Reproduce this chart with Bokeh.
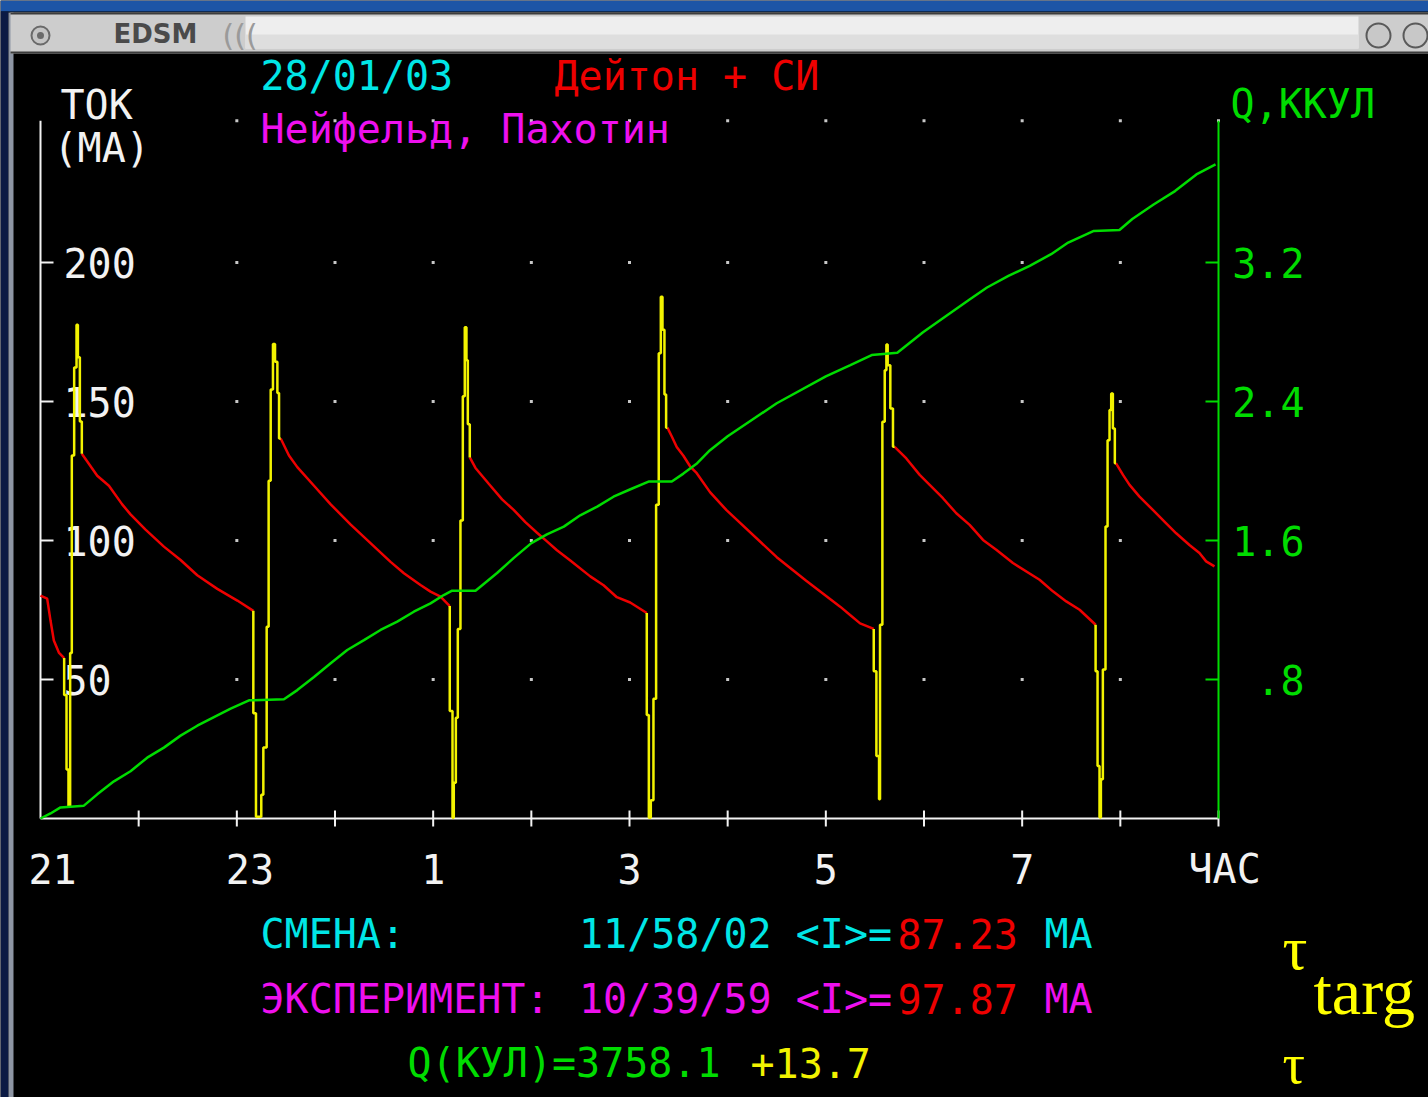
from bokeh.plotting import figure
from bokeh.models import Range1d
from bokeh.core.properties import value
from bokeh.embed import file_html
from bokeh.resources import INLINE

# ---------------- data ----------------
# time axis: hours elapsed since 21:00
HOUR_TICKS = [1, 2, 3, 4, 5, 6, 7, 8, 9, 10, 11, 12]
HOUR_LABEL_AT = [0, 2, 4, 6, 8, 10, 12]
HOUR_LABELS = ["21", "23", "1", "3", "5", "7", "ЧАС"]
GRID_HOURS = [2, 3, 4, 5, 6, 7, 8, 9, 10, 11]
CURRENT_TICKS = [50, 100, 150, 200]
CURRENT_TICK_LABELS = ["50", "100", "150", "200"]
CURRENT_AXIS_TOP = 251
CHARGE_TICKS = [0.8, 1.6, 2.4, 3.2]
CHARGE_TICK_LABELS = [".8", "1.6", "2.4", "3.2"]
KC_PER_MA = 0.8 / 50  # right axis scale relative to left axis

# decaying beam current between injections (red), mA
decay_h = [
    [0.000, 0.068, 0.102, 0.136, 0.187, 0.241],
    [0.421, 0.578, 0.697, 0.832, 0.917, 1.070, 1.257, 1.427, 1.597, 1.801, 2.005, 2.168],
    [2.447, 2.531, 2.616, 2.786, 2.956, 3.160, 3.566, 3.702, 3.871, 3.973, 4.075, 4.169],
    [4.373, 4.431, 4.566, 4.702, 4.820, 4.939, 5.058, 5.159, 5.261, 5.397, 5.600, 5.736, 5.871, 6.007, 6.176],
    [6.386, 6.431, 6.481, 6.549, 6.617, 6.685, 6.820, 6.988, 7.500, 7.800, 8.146, 8.247, 8.349, 8.488],
    [8.701, 8.820, 8.956, 9.058, 9.193, 9.329, 9.465, 9.601, 9.736, 9.906, 10.177, 10.313, 10.449, 10.585, 10.748],
    [10.955, 11.027, 11.094, 11.195, 11.331, 11.467, 11.569, 11.704, 11.806, 11.874, 11.959],
]
decay_ma = [
    [80.2, 79.1, 71.2, 64.0, 59.7, 57.7],
    [131.2, 123.3, 119.7, 113.0, 109.4, 103.9, 97.8, 93.0, 87.5, 82.6, 78.4, 74.7],
    [136.7, 130.6, 126.4, 119.7, 113.0, 105.7, 92.3, 88.2, 84.0, 81.6, 79.8, 76.4],
    [129.9, 126.1, 120.4, 114.8, 111.0, 106.6, 102.8, 99.7, 96.5, 92.8, 87.1, 83.9, 79.6, 77.7, 73.9],
    [140.6, 137.4, 133.6, 130.5, 126.7, 124.2, 117.4, 110.9, 94.0, 85.5, 76.2, 73.2, 70.2, 68.2],
    [133.7, 129.5, 123.6, 120.0, 115.2, 109.8, 105.6, 100.2, 96.7, 91.9, 85.9, 81.7, 78.1, 75.1, 69.7],
    [127.8, 123.6, 120.0, 115.8, 111.0, 106.2, 102.6, 98.4, 95.5, 92.5, 90.7],
]

# injections (yellow trace), mA
inj_h = [
    [0.241, 0.241, 0.265, 0.265, 0.285, 0.285, 0.302, 0.302, 0.319, 0.319, 0.343, 0.343, 0.367, 0.367, 0.381, 0.381, 0.401, 0.401, 0.421, 0.421],
    [2.168, 2.168, 2.195, 2.195, 2.249, 2.249, 2.270, 2.270, 2.304, 2.304, 2.324, 2.324, 2.345, 2.345, 2.368, 2.368, 2.389, 2.389, 2.413, 2.413, 2.430, 2.430, 2.447],
    [4.169, 4.169, 4.197, 4.197, 4.210, 4.210, 4.231, 4.231, 4.251, 4.251, 4.278, 4.278, 4.302, 4.302, 4.322, 4.322, 4.339, 4.339, 4.353, 4.353, 4.373, 4.373],
    [6.176, 6.176, 6.197, 6.197, 6.217, 6.217, 6.244, 6.244, 6.271, 6.271, 6.298, 6.298, 6.319, 6.319, 6.336, 6.336, 6.356, 6.356, 6.373, 6.373, 6.386],
    [8.488, 8.488, 8.515, 8.515, 8.542, 8.542, 8.552, 8.552, 8.576, 8.576, 8.600, 8.600, 8.617, 8.617, 8.630, 8.630, 8.657, 8.657, 8.684, 8.684, 8.701],
    [10.748, 10.748, 10.768, 10.768, 10.788, 10.788, 10.802, 10.802, 10.822, 10.822, 10.849, 10.849, 10.870, 10.870, 10.890, 10.890, 10.907, 10.907, 10.924, 10.924, 10.944, 10.944, 10.955],
]
inj_ma = [
    [57.7, 44.4, 44.4, 17.6, 17.6, 4.3, 4.3, 59.5, 59.5, 130.6, 130.6, 162.2, 162.2, 177.6, 177.6, 165.9, 165.9, 142.8, 142.8, 131.2],
    [74.7, 37.9, 37.9, 0.6, 0.6, 8.5, 8.5, 25.5, 25.5, 69.0, 69.0, 121.5, 121.5, 154.3, 154.3, 170.7, 170.7, 164.3, 164.3, 153.1, 153.1, 136.7, 136.7],
    [76.4, 38.7, 38.7, 0.3, 0.3, 12.9, 12.9, 36.2, 36.2, 68.2, 68.2, 107.2, 107.2, 151.9, 151.9, 176.7, 176.7, 164.8, 164.8, 141.8, 141.8, 129.9],
    [73.9, 37.2, 37.2, 0.3, 0.3, 6.6, 6.6, 43.1, 43.1, 112.9, 112.9, 167.4, 167.4, 187.7, 187.7, 175.8, 175.8, 152.5, 152.5, 140.6, 140.6],
    [68.2, 53.0, 53.0, 22.5, 22.5, 6.9, 6.9, 69.7, 69.7, 142.7, 142.7, 161.2, 161.2, 170.5, 170.5, 163.0, 163.0, 147.5, 147.5, 133.7, 133.7],
    [69.7, 53.0, 53.0, 18.9, 18.9, 0.4, 0.4, 14.1, 14.1, 53.6, 53.6, 105.0, 105.0, 136.1, 136.1, 146.9, 146.9, 152.9, 152.9, 140.3, 140.3, 127.8, 127.8],
]

# integrated charge (green), kC
charge_h = [0.000, 0.102, 0.204, 0.442, 0.578, 0.748, 0.917, 1.087, 1.257, 1.427, 1.597, 1.767, 1.937, 2.124,
            2.480, 2.616, 2.786, 2.956, 3.125, 3.295, 3.464, 3.634, 3.803, 3.973, 4.108, 4.193,
            4.431, 4.515, 4.651, 4.822, 5.000, 5.159, 5.331, 5.498, 5.671, 5.837, 6.010, 6.200,
            6.431, 6.549, 6.690, 6.820, 7.000, 7.500, 8.000, 8.250, 8.467,
            8.728, 8.990, 9.207, 9.468, 9.642, 9.860, 10.077, 10.295, 10.469, 10.730,
            10.991, 11.122, 11.339, 11.557, 11.775, 11.970]
charge_kc = [0.000, 0.029, 0.064, 0.074, 0.139, 0.214, 0.272, 0.350, 0.408, 0.477, 0.534, 0.584, 0.632, 0.680,
             0.686, 0.739, 0.814, 0.894, 0.970, 1.027, 1.085, 1.133, 1.190, 1.238, 1.286, 1.311,
             1.311, 1.350, 1.413, 1.500, 1.585, 1.635, 1.680, 1.745, 1.795, 1.852, 1.895, 1.940,
             1.940, 1.985, 2.045, 2.120, 2.200, 2.390, 2.545, 2.610, 2.667,
             2.680, 2.798, 2.885, 2.989, 3.056, 3.123, 3.181, 3.248, 3.315, 3.382,
             3.387, 3.450, 3.534, 3.611, 3.707, 3.765]

# ---------------- layout helpers (picture pixel -> data) ----------------
W, H = 1428, 1097
PX_PER_H = (1218 - 40) / 12.0
PX_PER_MA = (818 - 262) / 200.0
LIFT = 0.37  # baseline correction, in em


def dx(px):
    return (px - 40) / PX_PER_H


def dy(py):
    return (818 - py) / PX_PER_MA


MONO = value("DejaVu Sans Mono")
WHITE = "#f2f2f2"
RED = "#ee0000"
YELLOW = "#f2f200"
GREEN = "#00dc00"
CYAN = "#00e6e6"
MAGENTA = "#ee10ee"

p = figure(width=W, height=H, x_range=Range1d(dx(0), dx(W)), y_range=Range1d(dy(H), dy(0)),
           output_backend="svg", toolbar_location=None, min_border=0,
           x_axis_location=None, y_axis_location=None,
           background_fill_color="black", border_fill_color="black", outline_line_color=None)
p.xgrid.visible = False
p.ygrid.visible = False
p.extra_y_ranges = {"q": Range1d(dy(H) * KC_PER_MA, dy(0) * KC_PER_MA)}

# ---- window chrome (decoration) ----
p.quad(left=[dx(0)], right=[dx(W)], bottom=[dy(11)], top=[dy(0)], fill_color="#1d55a6", line_color=None)
p.quad(left=[dx(0)], right=[dx(8)], bottom=[dy(H)], top=[dy(11)], fill_color="#0b1a44", line_color=None)
p.quad(left=[dx(8)], right=[dx(13)], bottom=[dy(H)], top=[dy(12)], fill_color="#8e96a4", line_color=None)
p.quad(left=[dx(10)], right=[dx(W)], bottom=[dy(53)], top=[dy(12)], fill_color="#cdcdcd", line_color=None)
p.quad(left=[dx(245)], right=[dx(1358)], bottom=[dy(48)], top=[dy(16)], fill_color="#eeeeee", line_color=None)
p.quad(left=[dx(245)], right=[dx(1358)], bottom=[dy(48)], top=[dy(34)], fill_color="#dedede", line_color=None)
p.segment(x0=[dx(10), dx(10)], y0=[dy(13), dy(52)], x1=[dx(W), dx(W)], y1=[dy(13), dy(52)],
          line_color="#3c3c3c", line_width=2)
p.scatter(x=[dx(40)], y=[dy(35)], size=18, marker="circle", fill_color="#c4c4c4", line_color="#6a6a6a", line_width=2)
p.scatter(x=[dx(40)], y=[dy(35)], size=7, marker="circle", fill_color="#6a6a6a", line_color=None)
p.scatter(x=[dx(1378), dx(1415)], y=[dy(35), dy(35)], size=24, marker="circle",
          fill_color="#c8c8c8", line_color="#5a5a5a", line_width=2)
p.text(x=[dx(113)], y=[dy(43 - LIFT * 26)], text=["EDSM"], text_font=value("DejaVu Sans"), text_font_style="bold",
       text_font_size="26px", text_color="#4a4a4a", text_baseline="alphabetic")
p.text(x=[dx(222)], y=[dy(46 - LIFT * 30)], text=["((("], text_font=value("DejaVu Sans"),
       text_font_size="30px", text_color="#9a9a9a", text_baseline="alphabetic")

# ---- grid dots ----
gx = [h for h in GRID_HOURS for _ in CURRENT_TICKS] + GRID_HOURS + [12]
gy = [v for _ in GRID_HOURS for v in CURRENT_TICKS] + [CURRENT_AXIS_TOP] * (len(GRID_HOURS) + 1)
p.scatter(x=gx, y=gy, size=3, marker="square", color="#c8c8c8", line_color=None)

# ---- axes ----
p.segment(x0=[0], y0=[0], x1=[0], y1=[CURRENT_AXIS_TOP], line_color=WHITE, line_width=2)
p.segment(x0=[0], y0=[0], x1=[12], y1=[0], line_color=WHITE, line_width=2)
p.segment(x0=HOUR_TICKS, y0=[dy(810)] * len(HOUR_TICKS), x1=HOUR_TICKS, y1=[dy(826)] * len(HOUR_TICKS),
          line_color=WHITE, line_width=2)
p.segment(x0=[0] * 4, y0=CURRENT_TICKS, x1=[dx(53)] * 4, y1=CURRENT_TICKS, line_color=WHITE, line_width=2)
p.segment(x0=[12], y0=[0], x1=[12], y1=[CURRENT_AXIS_TOP], line_color=GREEN, line_width=2)
p.segment(x0=[dx(1205)] * 4, y0=CHARGE_TICKS, x1=[12] * 4, y1=CHARGE_TICKS, line_color=GREEN,
          line_width=2, y_range_name="q")

p.text(x=HOUR_LABEL_AT, y=[dy(883 - LIFT * 40)] * len(HOUR_LABEL_AT), text=HOUR_LABELS,
       x_offset=[-12, -11, -12, -12, -12, -12, -30], text_font=MONO, text_font_size="40px",
       text_color=WHITE, text_baseline="alphabetic", text_align="left")
p.text(x=[dx(63)] * 4, y=CURRENT_TICKS, text=CURRENT_TICK_LABELS, y_offset=15 - LIFT * 40,
       text_font=MONO, text_font_size="40px", text_color=WHITE, text_baseline="alphabetic")
p.text(x=[dx(1304)] * 4, y=CHARGE_TICKS, text=CHARGE_TICK_LABELS, y_offset=15 - LIFT * 40, y_range_name="q",
       text_font=MONO, text_font_size="40px", text_color=GREEN, text_baseline="alphabetic", text_align="right")

# ---- data traces ----
p.multi_line(xs=decay_h, ys=decay_ma, line_color=RED, line_width=2.5)
p.multi_line(xs=inj_h, ys=inj_ma, line_color=YELLOW, line_width=2.5)
p.line(x=charge_h, y=charge_kc, line_color=GREEN, line_width=2.5, y_range_name="q")

# ---- texts ----
CW = 24.5  # character cell width of the screen font


def txt(s, col, py, color, x0=260, size=40, font=MONO):
    p.text(x=[dx(x0 + col * CW)], y=[dy(py - LIFT * size)], text=[s], text_font=font,
           text_font_size=f"{size}px", text_color=color, text_baseline="alphabetic", text_align="left")


txt("28/01/03", 0, 90, CYAN)
txt("Дейтон + СИ", 12, 90, RED)
txt("Нейфельд, Пахотин", 0, 143, MAGENTA)
txt("ТОК", 0, 119, WHITE, x0=60)
txt("(МА)", 0, 162, WHITE, x0=53)
txt("Q,ККУЛ", 0, 118, GREEN, x0=1230)

txt("СМЕНА:", 0, 948, CYAN)
txt("11/58/02 <I>=", 13, 948, CYAN)
txt("87.23", 26, 948, RED)
txt("МА", 32, 948, CYAN)

txt("ЭКСПЕРИМЕНТ:", 0, 1013, MAGENTA)
txt("10/39/59 <I>=", 13, 1013, MAGENTA)
txt("97.87", 26, 1013, RED)
txt("МА", 32, 1013, MAGENTA)

txt("Q(КУЛ)=3758.1", 6, 1077, GREEN)
txt("+13.7", 20, 1077, YELLOW)

SERIF = value("Liberation Serif")
txt("τ", 0, 970, "#ffff00", x0=1282, size=62, font=SERIF)
txt("targ", 0, 1015, "#ffff00", x0=1313, size=66, font=SERIF)
txt("τ", 0, 1084, "#ffff00", x0=1282, size=56, font=SERIF)

open("out.html", "w").write(file_html(p, INLINE))
